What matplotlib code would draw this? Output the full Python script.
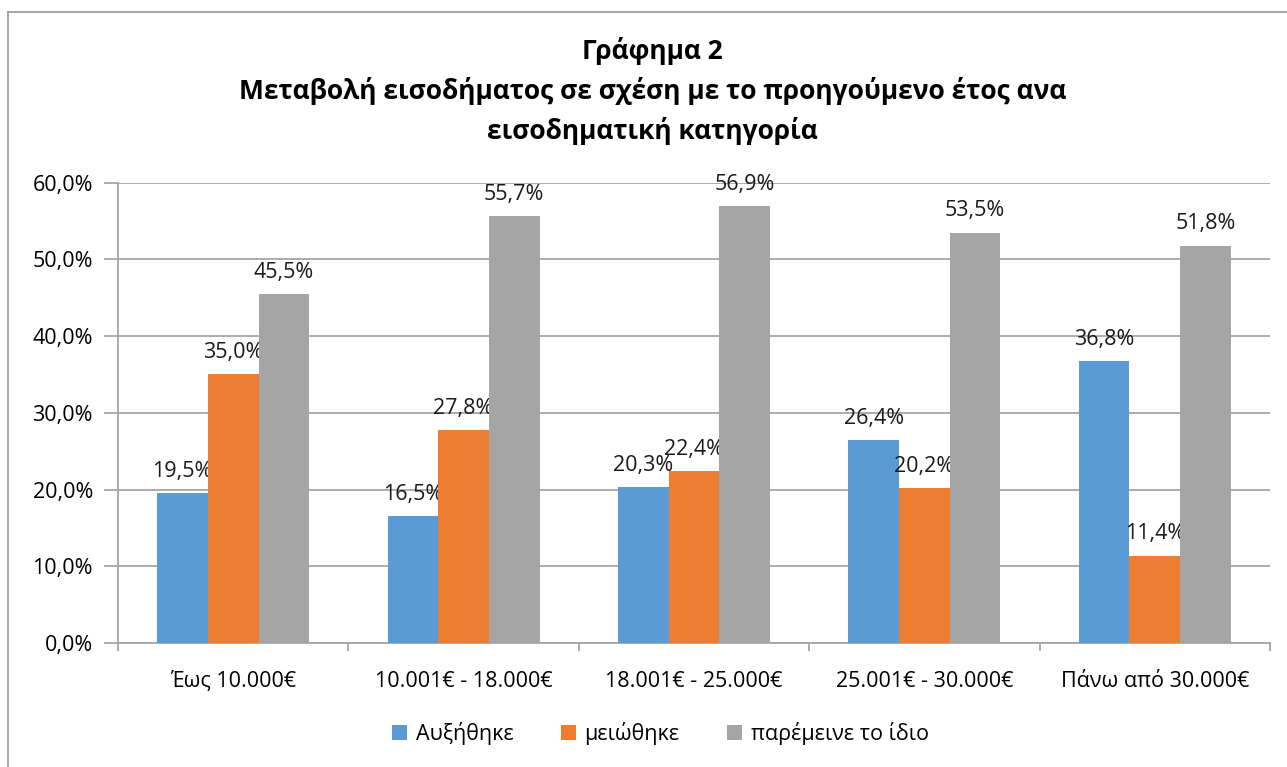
import matplotlib.pyplot as plt
from matplotlib.lines import Line2D
import numpy as np

categories = ['Έως 10.000€', '10.001€ - 18.000€', '18.001€ - 25.000€',
              '25.001€ - 30.000€', 'Πάνω από 30.000€']
series_names = ['Αυξήθηκε', 'μειώθηκε', 'παρέμεινε το ίδιο']
increased = [19.5, 16.5, 20.3, 26.4, 36.8]
decreased = [35.0, 27.8, 22.4, 20.2, 11.4]
unchanged = [45.5, 55.7, 56.9, 53.5, 51.8]
colors = ['#5B9BD5', '#ED7D31', '#A5A5A5']

plt.rcParams['font.family'] = ['Open Sans', 'DejaVu Sans']

fig = plt.figure(figsize=(12.87, 7.67), dpi=100)
ax = fig.add_axes([0.0917, 0.1617, 0.895, 0.6001])

x = np.arange(len(categories))
w = 0.22
for i, (vals, name, c) in enumerate(zip([increased, decreased, unchanged], series_names, colors)):
    bars = ax.bar(x + (i - 1) * w, vals, w, color=c, label=name, zorder=3)
    for b, v in zip(bars, vals):
        ax.annotate(f'{v:.1f}%'.replace('.', ','),
                    (b.get_x() + b.get_width() / 2, v),
                    xytext=(0, 8), textcoords='offset points',
                    ha='center', va='bottom', fontsize=15.5, color='#1a1a1a')

ax.set_xlim(-0.5, len(categories) - 0.5)
ax.set_ylim(0, 60)
ax.set_yticks(np.arange(0, 61, 10))
ax.set_yticklabels([f'{t:.1f}%'.replace('.', ',') for t in np.arange(0, 61, 10)])
ax.set_xticks(x)
ax.set_xticklabels(categories)
ax.set_xticks(np.arange(-0.5, len(categories), 1), minor=True)
ax.tick_params(axis='x', which='major', length=0, pad=20, labelsize=15.5)
ax.tick_params(axis='x', which='minor', length=6, color='#A6A6A6', width=1.3)
ax.tick_params(axis='y', length=10, color='#A6A6A6', width=1.3, pad=8, labelsize=15.5)
ax.grid(axis='y', color='#A6A6A6', linewidth=1.3, zorder=0)
for s in ['top', 'right']:
    ax.spines[s].set_visible(False)
for s in ['left', 'bottom']:
    ax.spines[s].set_color('#A6A6A6')
    ax.spines[s].set_linewidth(1.3)

fig.text(0.507, 0.952, 'Γράφημα 2\nΜεταβολή εισοδήματος σε σχέση με το προηγούμενο έτος ανα\nεισοδηματική κατηγορία',
         ha='center', va='top', fontsize=19, fontweight='bold', linespacing=1.56)

fig.legend(loc='center', bbox_to_anchor=(0.513, 0.044), ncol=3, frameon=False,
           fontsize=15.5, handlelength=0.7, handleheight=0.7, columnspacing=2.2,
           handletextpad=0.4)

# chart border
fig.add_artist(Line2D([8 / 1287, 1.0], [1 - 12 / 767, 1 - 12 / 767], color='#A0A0A0', lw=1.3))
fig.add_artist(Line2D([8 / 1287, 8 / 1287], [0, 1 - 12 / 767], color='#A0A0A0', lw=1.3))

fig.savefig('out.png', dpi=100)
